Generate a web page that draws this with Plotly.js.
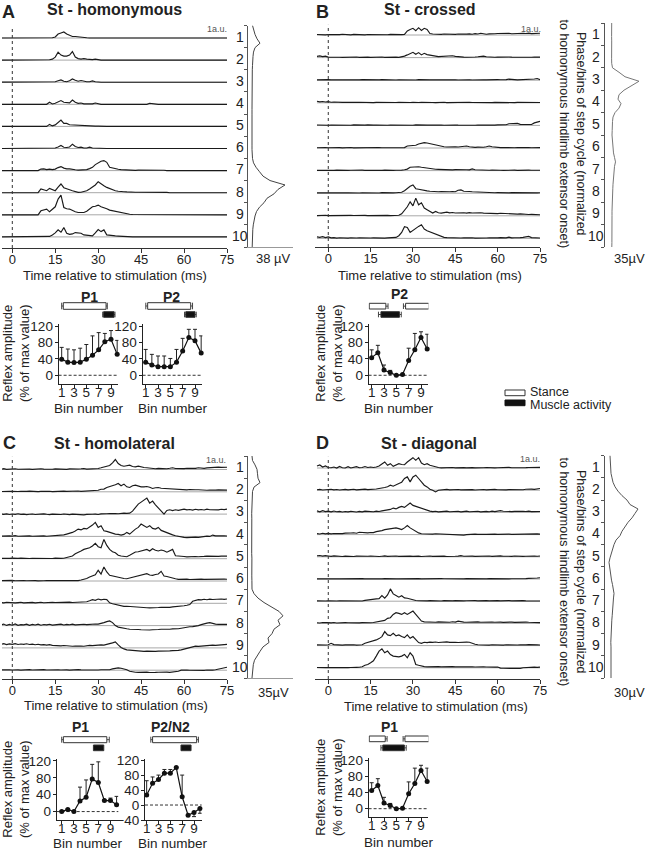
<!DOCTYPE html>
<html><head><meta charset="utf-8">
<script src="https://cdn.plot.ly/plotly-3.0.1.min.js"></script>
<style>html,body{margin:0;padding:0;background:#fff}#chart{width:650px;height:852px}</style>
</head><body><div id="chart"></div>
<script>
// ---------------- DATA ----------------
const timeMs = [-4,-3,-2,-1,0,1,2,3,4,5,6,7,8,9,10,11,12,13,14,15,16,17,18,19,20,21,22,23,24,25,26,27,28,29,30,31,32,33,34,35,36,37,38,39,40,41,42,43,44,45,46,47,48,49,50,51,52,53,54,55,56,57,58,59,60,61,62,63,64,65,66,67,68,69,70,71,72,73,74,75];
const phaseBins = [0,0.2,0.4,0.6,0.8,1,1.2,1.4,1.6,1.8,2,2.2,2.4,2.6,2.8,3,3.2,3.4,3.6,3.8,4,4.2,4.4,4.6,4.8,5,5.2,5.4,5.6,5.8,6,6.2,6.4,6.6,6.8,7,7.2,7.4,7.6,7.8,8,8.2,8.4,8.6,8.8,9,9.2,9.4,9.6,9.8,10];
const binNumbers = [1,2,3,4,5,6,7,8,9,10];
const binBoundaries = [0,1,2,3,4,5,6,7,8,9,10];
const timeTicks = [0,15,30,45,60,75];

// Averaged reflex waveforms (a.u., one row per bin of the step cycle)
const traceA = [
[0,0,0,0,0,0,0,0,0,0, 0,0,0,0,0,0,0,0,0.3,1, 4,5,6,4,2.5,1.5,1.5,1,0.5,0.3, 0.2,0,0,0,0,0,0,0,0,0, 0,0,0,0,0,0,0,0,0,0, 0,0,0,0,0,0,0,0,0,0, 0,0,0,0,0,0,0,0,0,0, 0,0,0,0,0,0,0,0,0,0],
[0,0,0,0,0,0,0,0,0,0, 0,0,0,0,0,0,0.5,0.3,1,3, 8,5,4,4,5,8.5,3,1.5,1,1.5, 1,0.5,0.5,1,0.3,0,0,0,0,0, 0,0,0,0,0,0,0,0,0,0, 0,0,0,0.3,0.3,0.3,0,0,0,0, 0,0,0,0,0,0,0,0,0,0, 0,0,0,0,0,0,0,0,0,0],
[0,0,0,0,0,0,0,0,0,0, 0,0,0,0,0,0,0,0,0.3,0.5, 1.5,2.3,1,0.5,1.5,3.3,2,1,1.7,0.8, 0.5,0.5,1.3,0.5,0,0,0,0,0,0, 0,0,0,0,0,0,0,0,0,0, 0,0,0,0,0,0,0,0,0,0, 0,0,0,0,0,0,0,0,0,0, 0,0,0,0,0,0,0,0,0,0],
[0,0,0,0,0,0,0,0,0,0, 0,0,0,0,0,0,0,2,0.3,1, 2.5,3.7,2,1.5,1.5,4.3,2,1,1.3,0.5, 0.5,0.5,0.5,1.3,0.5,0,0,0,0,0, 0,0,0,0,0,0,0,0,0,0, 0,0,1,0.5,0,0,0,0,0,0, 0,0,0,0,0,0,0,0,0,0, 0,0,0,0,0,0,0,0,0,0],
[0,0,0,0,0,0,0,0,0,0, 0,0,0,0,0,0,0,2,0.5,1.5, 4,6.3,3,3,1.7,1.5,1,1,1.3,0.8, 0.5,0.5,0.3,0.3,0.3,0,0,0,0,0, 0,0,0,0,0.3,0.5,0.5,0.3,0.5,0.5, 0.5,0.3,0.3,0,0,0,0,0,0,0, 0,0,0,0,0,0,0,0,0,0, 0,0,0,0,0,0,0,0,0,0],
[0,0,0,0,0,0,0,0,0,0, 0,0,0,0,0,0,0,0,0,0.5, 1.5,3,1.3,1,1.5,4.3,2,1,1.3,0.5, 0.5,1.3,0.5,0.3,0,0,0,0,0,0, 0,0,0,0,0,0,0,0,0,0, 0,0,0,0,0,0,0,0,0,0, 0,0,0,0,0,0,0,0,0,0, 0,0,0,0,0,0,0,0,0,0],
[0,0,0,0,0,0,0,0,0,0, 0,0,0,0,1.5,1.7,1,1.5,1,1.5, 3,4,2.5,1.7,1.7,1,0.8,0.5,0.5,0.5, 1,2,3.3,6,7.7,9.3,10,8.3,3.3,2.5, 1.7,1.3,1,0.8,0.5,0.3,0.3,0.3,0.5,0.5, 0.8,1,1,1,1,0.8,0.5,0.3,0,0, 0,0,0,0,0,0,0,0,0,0, 0,0,0,0,0,0,0,0,0,0],
[0,0,0,0,0,0,0,0,0,0, 0,0,0,0,3.7,2.5,2,4.3,3,2, 5.5,8.7,5,4.3,3,2,1,0.3,0.5,1, 2,3.7,6,7.7,11,8.7,7,5.3,4,2.7, 2,1.5,1,1,0.8,0.5,0.5,0.5,0.5,0.5, 0.5,0.8,1,1,1,1,0.8,0.5,0.3,0, 0,0,0,0,0,0,0,0,0,0, 0,0,0,0,0,0,0,0,0,0],
[0,0,0,0,0,0,0,0,0,0, 0,0,0,0,4,4.5,5.7,3,5.5,8, 15.7,19.7,7.3,6,5.7,4,3,2.3,2.5,2.3, 3.5,5.7,8,8.5,9.7,8,7.3,6,4.7,4, 3.5,3,2,1.5,0.7,0.5,0.3,0.3,0.3,0, 0,0,0,0,0,0,0,0,0,0, 0,0,0,0,0,0,0,0,0,0, 0,0,0,0,0,0,0,0,0,0],
[0,0,0,0,0,0,0,0,0,0, 0,0,0,0,0,0,0,0.5,2,4, 7,4.7,9.3,3.7,2.5,3,4.3,4,3.7,2, 1.5,1.2,1,4,7.3,5.3,7,2,1.5,1, 1,0.8,0.5,0.3,0,0,0,0,0,0, 0,0,0,0,0,0,0,0,0,0, 0,0,0,0,0,0,0,0,0,0, 0,0,0,0,0,0,0,0,0,0]
];
const traceB = [
[0.5,0.3,0.8,0.2,0.5,0.3,0.6,0.2,0.4,0.7, 0.3,0.5,0.2,0.6,0.4,0.3,0.7,0.2,0.5,0.4, 0.3,0.6,0.4,0.2,0.5,0.3,0.6,0.4,0.3,0.5, 0.4,0.6,4,5.5,6.7,4.3,7.3,4.5,6.7,5.5, 1.5,1,0.8,1.2,0.7,1,0.8,1.3,0.9,0.7, 1,0.8,1.2,0.9,1.1,0.8,1.3,1,1.7,1, 0.8,1.1,0.9,1.2,1.5,1.7,1.2,1.5,1.7,1.3, 1.5,1.8,1.3,1.7,1.5,1.9,1.4,1.7,1.5,1.8],
[1.2,1.7,1,1.5,0.5,0.3,0.5,0.2,0.4,0.3, 0.5,0.3,0.2,0.4,0.6,0.3,0.5,0.2,0.4,0.3, 0.5,0.3,0.4,0.6,0.3,0.5,0.2,0.4,0.5,0.3, 0.6,1.5,2.7,4,5.3,3.3,5,2.7,4.3,3, 2.7,1.7,1.5,1,1.2,0.8,1,1.2,1.8,1.2, 0.8,0.6,0.5,0.4,0.7,0.5,0.6,0.8,1,1.5, 0.8,0.5,0.6,0.4,0.5,0.7,0.5,0.4,0.6,0.5, 0.4,0.6,0.5,0.3,0.5,0.6,0.4,0.5,0.3,0.5],
[0.3,0.5,0.2,0.4,0.6,0.3,0.5,0.2,0.4,0.3, 0.2,0.4,0.3,0.5,0.2,0.3,0.5,0.4,0.2,0.3, 0.4,0.2,0.3,0.5,0.3,0.2,0.4,0.3,0.2,0.4, 0.3,0.5,0.2,0.4,0.3,0.2,0.5,0.3,0.4,0.2, 0.3,0.4,0.2,0.5,0.3,0.4,0.2,0.3,0.5,0.3, 0.2,0.4,0.3,0.5,0.3,0.2,0.4,0.6,0.3,0.4, 0.3,0.5,0.4,0.3,0.6,0.5,0.4,0.6,1,0.5, 0.6,0.4,0.5,0.7,0.5,0.6,0.8,1.2,1.7,0.6],
[1.5,1,1.3,0.8,1.2,0.6,0.8,0.5,0.7,0.4, 0.5,0.3,0.6,0.2,0.4,0.5,0.3,0.2,0.4,0.3, 0.2,0.4,0.3,0.5,0.2,0.3,0.4,0.2,0.3,0.5, 0.3,0.2,0.4,0.3,0.5,0.2,0.3,0.4,0.2,0.3, 0.4,0.3,0.2,0.4,0.3,0.5,0.2,0.3,0.4,0.2, 0.3,0.4,0.2,0.3,0.5,0.3,0.2,0.4,0.3,0.2, 0.4,0.3,0.2,0.4,0.3,0.2,0.4,0.3,0.2,0.3, 0.2,0.4,0.3,0.2,0.3,0.4,0.2,0.3,0.4,0.3],
[0.4,0.2,0.5,0.3,0.2,0.4,0.3,0.5,0.2,0.3, 0.4,0.3,0.2,0.5,0.3,0.2,0.4,0.3,0.5,0.2, 0.3,0.4,0.2,0.3,0.5,0.2,0.4,0.3,0.2,0.4, 0.3,0.2,0.4,0.3,0.2,0.5,0.3,0.4,0.2,0.3, 0.4,0.2,0.3,0.5,0.3,0.2,0.4,0.3,0.2,0.4, 0.3,0.2,0.4,0.3,0.5,0.3,0.2,0.4,0.3,0.2, 0.4,0.3,0.2,0.3,0.5,0.3,0.4,0.6,1.7,2, 1.7,2,1,0.8,1.3,1,0.9,2.5,3.5,4],
[0.3,0.5,0.2,0.4,0.3,0.5,0.2,0.3,0.4,0.2, 0.4,0.3,0.5,0.2,0.3,0.4,0.2,0.5,0.3,0.4, 0.2,0.3,0.5,0.3,0.4,0.2,0.3,0.5,0.4,0.3, 0.5,0.4,2,2,2.5,2.7,4,4.7,5.3,5, 4.3,3.5,2.7,2,1.3,1.2,1,1.3,1,1.2, 1,1.3,1.5,2,1.2,0.8,0.7,0.9,0.6,0.8, 1.2,2,1.2,0.7,0.5,0.4,0.5,0.3,0.4,0.3, 0.3,0.5,0.3,0.4,0.2,0.4,0.3,0.5,0.3,0.4],
[0.3,0.2,0.4,0.3,0.5,0.2,0.3,0.4,0.2,0.3, 0.4,0.2,0.3,0.5,0.3,0.2,0.4,0.3,0.2,0.4, 0.3,0.5,0.2,0.3,0.4,0.2,0.5,0.3,0.4,0.2, 0.5,0.8,1.5,3.3,3.5,4.3,3.8,3.3,2.8,2.3, 1.7,1.5,1.3,1.2,1,1,0.9,1,0.8,0.9, 0.7,0.8,0.6,0.8,0.7,1.7,0.8,0.6,0.5,0.6, 0.5,0.4,0.6,0.3,0.5,0.4,0.3,0.5,0.4,0.3, 0.4,0.3,0.5,0.4,0.3,0.5,0.4,0.3,0.5,0.4],
[0.3,0.5,0.2,0.4,0.3,0.2,0.5,0.3,0.4,0.2, 0.3,0.4,0.2,0.5,0.3,0.2,0.4,0.3,0.5,0.2, 0.4,0.3,0.2,0.5,0.3,0.4,0.2,0.3,0.5,0.6, 1,2.5,5,7,8.3,4.5,4,3.3,2.7,2.3, 2,1.7,1.8,1.5,1.7,1.4,1.6,1.5,1.7,1.5, 3,3.3,2,1.5,1.7,1.4,1.2,1.3,1.1,1, 0.8,0.6,0.7,0.5,0.6,0.4,0.5,0.6,0.4,0.5, 0.4,0.6,0.3,0.5,0.4,0.3,0.5,0.4,0.3,0.5],
[0.2,0.4,0.3,0.5,0.2,0.3,0.4,0.2,0.3,0.5, 0.3,0.2,0.4,0.3,0.5,0.2,0.3,0.4,0.2,0.3, 0.4,0.2,0.3,0.5,0.3,0.4,0.2,0.3,0.4,0.5, 2,5,9,14,10,17.7,11,13,7.7,6, 4,2.7,4.3,3,2.7,3,3.7,3,3.3,2.8, 3,3.3,3,2.7,3.2,2.8,3,2.6,3,2.7, 2.5,2.8,2.3,2.6,2.2,2.5,2.3,2,2.2,1.8, 2,1.7,1.9,1.5,1.6,1.3,1.4,1.1,1.2,1],
[1.5,1,1.8,0.8,1.5,0.5,0.8,0.3,0.6,0.4, 0.5,0.3,0.6,0.2,0.4,0.5,0.3,0.6,0.2,0.4, 0.5,0.3,0.4,0.6,0.3,0.5,0.7,0.4,1,2.7, 6,11.7,11,6,8.3,10,12,13.7,9.3,7.7, 6.5,5,4.3,3,1.5,1,0.8,0.6,0.7,0.5, 0.6,0.4,0.5,0.7,0.4,0.6,0.3,0.5,0.4,0.6, 0.4,0.5,0.3,0.6,0.5,0.8,0.6,0.5,1.3,0.5, 0.6,0.4,0.8,1,1.3,2,0.8,0.5,0.6,0.4]
];
const traceC = [
[0.3,0.8,0.2,0.6,0.4,0.7,0.3,0.5,0.2,0.6, 0.4,0.2,0.5,0.3,0.7,0.4,0.2,0.5,0.3,0.6, 0.4,0.3,0.5,0.2,0.6,0.4,0.3,0.5,0.7,1, 0.4,0.6,0.3,0.5,1,1.7,2.5,3.3,4,6.7, 10,6,4,3.3,3.5,4.3,3,2.7,3.3,2.5, 2,1.7,1.2,1,0.8,1.1,0.9,1,0.8,1.2, 1.7,1,0.8,1.1,0.9,1.2,1,1.3,1.1,1.7, 1.4,1.2,1.6,1.8,2.3,2,2.3,2.1,2.4,2.3],
[0.3,0.6,0.2,0.5,0.4,0.7,0.3,0.5,0.2,0.4, 0.6,0.3,0.5,0.2,0.4,0.6,0.3,0.5,0.2,0.4, 0.3,0.5,0.7,0.4,0.6,0.3,0.5,0.8,0.4,0.5, 1,0.5,1,1,1.5,2.5,2.7,4.3,5,6, 7,8.3,6,7.7,5,4.3,6,6.7,5.5,5, 5,5.3,4.5,3.3,4,4.3,3.5,3.3,3.3,3, 2.7,2.5,2.3,2.6,2.2,2,2.3,1.9,2.1,2, 1.7,1.9,1.6,1.8,1.5,1.7,1.9,1.6,1.8,1.7],
[0.3,-0.3,0.2,-0.4,0.1,-0.2,0.3,-0.3,0,-0.5, -0.2,0.1,-0.4,0,-0.3,0.2,-0.2,-0.5,0,-0.3, -0.1,-0.4,0.1,-0.2,-0.5,0,-0.3,-0.6,-0.2,-0.7, -0.3,-0.5,-0.2,0,-0.4,0.2,0,0.3,0.5,0.2, 0.6,0.4,0.8,1,0.7,1,3,7,10,12, 14.3,16,11,13,9.3,6,3,0,3.7,4.3, 3.5,4.3,3.8,4.5,5,4.2,4.6,4,4.8,4.3, 4.6,4.1,4.9,4.4,4.2,4.7,4.3,4.8,4.5,5],
[0.3,0.6,0.2,0.5,0.3,0.7,0.2,0.4,0.6,0.3, 0.5,0.2,0.4,0.6,0.3,0.5,0.2,0.4,0.3,0.2, 0.5,1,1.5,2.3,3,4,5.5,7.3,6.5,8, 7.5,9,11.3,14,9,10.7,5.7,5,4,3, 2.3,2,1.3,2,4,2.3,5,7.3,9,12.3, 10.7,9,10.7,8,7.3,9,6,4.7,3.5,2.3, 1.5,0.7,0,-0.8,-1,-1.2,-0.9,-1.1,-0.8,-1, -0.5,0,0.3,0,1.3,0.5,0.7,0.3,0.6,0.4],
[0.4,0.2,0.6,0.3,0.5,0.2,0.4,0.6,0.3,0.5, 0.2,0.4,0.3,0.6,0.2,0.5,0.3,0.4,0.2,0.6, 0.3,0.4,0.5,1,1.5,2.7,5,6,7.7,9.3, 10,11,12.7,15.3,12,11,19.3,13.3,9.3,7, 6,3.5,2.7,2.5,2,3.5,5,6.7,7,7.7, 8.5,9.3,7.7,10,8.5,7.7,8.7,8,6.5,8, 9.3,3,2.5,2,2.2,1.8,2.1,1.9,2.2,2, 2.5,2.3,2.6,2.4,2.7,2.5,2.3,2.6,2.4,2.5],
[0.3,0.5,0.2,0.4,0.6,0.3,0.5,0.2,0.4,0.3, 0.5,0.3,0.4,0.2,0.6,0.3,0.5,0.4,0.2,0.5, 0.3,0.6,0.4,0.5,0.3,0.7,0.5,0.4,1,1.7, 2.5,4,5,6.3,10.7,7,14,9,5.7,5, 4,3.5,3,2.5,2.3,3,4,5,5.7,6.5, 7,7.3,6,5.7,6.5,7,9.7,5,4.5,4, 3,2.3,1.7,1.9,1.6,1.8,1.5,1.7,1.9,1.6, 1.8,1.6,1.7,1.9,1.5,1.8,1.7,1.6,1.8,1.7],
[0.8,0.5,1,0.6,0.9,0.4,0.7,1,0.5,0.8, 0.6,0.9,0.5,0.8,1,0.6,0.9,0.7,1,0.8, 1,0.8,1.2,0.9,1.1,0.8,1,1.2,0.9,1.1, 1.5,2.5,3.7,3,4.3,3.5,4,3.7,0.5,-0.5, -1.3,-2,-2.5,-3,-3,-3.3,-3.5,-3.6,-3.5,-3.8, -4.3,-4.5,-4.6,-4.7,-4.5,-4.2,-4,-4.1,-3.9,-4, -3.6,-3.5,-3.3,-3,-2.5,-2,-1.3,2,3,3.7, 3.5,4,3.6,4.1,3.8,4.2,3.9,4.3,4,4.3],
[0.5,1.5,0.2,1.2,0.4,1.6,0.3,1,0.8,1.4, 0.3,1.2,0.6,1.5,0.4,1.1,0.7,1.3,0.5,1, 0.8,1.4,0.6,1.2,0.9,1.5,0.7,1.1,0.9,1.3, 1,1.4,1.2,1.6,1.5,2,3,4,4.7,3, 0,-1.5,-2.3,-2.7,-3.2,-3.7,-3.6,-3.8,-3.9,-4.1, -4.3,-4.2,-4.4,-4.1,-4.3,-3.9,-3.7,-3.8,-3.5,-3.6, -3.3,-3.4,-3.2,-2.6,-2,-1.8,-1.2,-1,-0.7,0, 1,2,2.5,3,2,1.5,1.3,1.1,1.4,1.3],
[3.5,4.2,3.3,4,3.6,4.3,3.4,3.9,3.5,4.1, 3.4,3.8,3.2,3.6,3,3.3,2.8,3.2,2.5,2.2, 2.5,2.1,2.4,2,2.3,1.7,1.9,1.5,1.8,1.7, 2.2,2.5,2.3,2.7,2.5,3,2.8,3.2,4.3,5, 6,3,0.5,-1,-2,-2.2,-2.5,-3,-3.2,-3.3, -3.4,-3.2,-3.5,-3.3,-3.4,-3.2,-3.3,-3.1,-3.3,-3, -2.7,-2.8,-2.5,-2,-1.3,-0.7,0,1,1.7,1.5, 1.8,1.7,2,2.4,2.7,2.5,2.9,3.5,3.7,3.6],
[0.3,0.5,0.1,0.4,0.2,0.5,0.3,0.1,0.4,0.2, 0.5,0.2,0.4,0.1,0.3,0.5,0.2,0.4,0.3,0.1, 0.4,0.2,0.5,0.3,0.1,0.4,0.2,0.5,0.3,0.2, 0.4,0.1,0.3,0.5,0.2,0.4,0.3,0.2,0.5,1.3, 2,2.3,2,1.3,0.5,-1,-1.8,-2,-2.2,-1.9, -2.1,-2,-2.3,-1.9,-2.2,-2,-1.8,-2.1,-1.9,-2.2, -2,-1.8,-1,0.1,-0.2,0.2,0,-0.1,0.2,0, 0.1,-0.1,0.2,0,0.1,0.5,1.3,2,2.5,3]
];
const traceD = [
[2,3,1,2,0.5,0.3,1,0,1.5,0.3, 0,1.3,0,0.5,1.3,0.3,0.5,1.5,0.5,1, 0.5,1,2,4,6,2.7,4.3,1.7,3,4.3, 3.5,3.3,6,8.3,10.3,7.7,10.3,5,3.3,4.3, 2.7,2,1,0.5,0.2,0.4,0.1,0.3,0.5,0.2, 0.4,0.1,0.3,0.2,0.5,0.3,0.1,0.4,0.2,0.3, 0.5,0.2,0.4,0.1,0.3,0.5,0.2,0.4,0.6,0.3, 0.2,0.5,0.3,0.6,0.4,0.5,0.7,0.5,0.8,0.6],
[0.5,0.8,0.2,0.6,0.3,0.9,0.4,0.7,0.2,0.5, 0.8,0.3,0.6,0.9,0.4,0.7,0.5,1,0.6,0.8, 0.5,1.2,1.7,2,2.7,3.5,5,4,5,6.7, 8,11.7,13.3,8.3,13.3,15,11.7,8.3,5,3.3, 1,0,-1.7,0,0.5,0.3,0.8,0.4,0.6,0.2, 0.7,0.4,0.6,0.3,0.8,0.5,0.2,0.6,0.4,0.7, 0.3,0.6,0.4,0.8,0.5,0.3,0.7,0.4,0.6,0.5, 0.8,0.4,0.7,0.5,0.9,0.6,1,0.8,1.2,1.7],
[1.5,0.6,1.8,0.8,1.2,0.5,1.4,0.7,1,0.4, 0.9,0.5,1.1,0.7,0.4,1,0.6,1.2,0.8,1, 0.7,1.3,0.9,1.5,2,2.7,3,4.3,3.5,5, 6,5,7,9.3,7,6,5,3.7,3,1.7, 1.3,0.8,1.1,0.6,1,0.8,1.2,0.7,1,0.9, 1.1,0.6,0.9,1.2,0.7,1,0.8,1.1,0.6,0.9, 1,0.7,1.2,0.8,1.5,1.7,1.2,0.9,1.3,0.8, 1,1.2,0.7,1.1,0.9,1.3,0.8,1,1.2,0.9],
[1,0.6,1.3,0.8,1.2,0.7,1.1,0.9,1.4,1, 1.5,1.2,1.6,1.8,1.4,2.3,1.9,2.2,1.8,2.1, 2,3,3.3,4,5,5.5,5.7,6,6.7,6, 5,6.7,9,6.7,5,3.3,1.7,0.8,0.6,0.9, 0.7,0.5,0.8,0.6,0.4,0.2,0,0.1,-0.2,0, -0.3,-1,-0.5,0,0.3,0.1,0.4,0.2,0.5,0.3, 0.2,0.4,0.3,0.5,0.2,0.4,0.3,0.1,0.4,0.2, 0.3,0.5,0.2,0.4,0.3,0.5,0.6,0.4,0.7,0.5],
[1,1.3,0.7,1.2,0.8,0.4,0.9,0.5,0.7,0.3, 0.6,0.4,0.8,0.3,0.7,0.5,0.9,0.4,0.6,0.8, 0.5,0.7,0.3,0.6,0.9,0.4,0.7,0.5,0.8,0.4, 0.6,0.9,0.5,0.7,0.4,0.8,0.6,0.3,0.7,0.5, 0.8,0.4,0.6,0.9,0.5,0.7,0.3,0.6,0.8,0.5, 0.7,1.2,0.6,0.8,0.5,0.7,0.4,0.6,0.9,0.5, 0.6,0.8,0.4,0.7,0.5,0.9,0.6,0.4,0.7,0.5, 0.8,0.5,0.7,0.4,0.6,0.8,0.5,0.7,0.6,0.8],
[0.2,0.3,0.1,0.3,0.2,0.1,0.3,0.2,0.1,0.2, 0.3,0.1,0.2,0.3,0.1,0.2,0.3,0.2,0.1,0.3, 0.2,0.1,0.3,0.2,0.3,0.1,0.2,0.3,0.1,0.2, 0.3,0.2,0.1,0.3,0.2,0.1,0.3,0.2,0.3,0.1, 0.2,0.3,0.1,0.2,0.3,0.2,0.1,0.3,0.2,0.1, 0.3,0.2,0.1,0.3,0.2,0.3,0.1,0.2,0.3,0.2, 0.1,0.3,0.2,0.1,0.3,0.2,0.3,0.1,0.2,0.3, 0.2,0.4,0.3,0.5,0.4,0.6,0.5,0.8,1,1.3],
[0.3,0.1,0.4,0.2,0.3,0.1,0.4,0.2,0.3,0.2, 0.4,0.1,0.3,0.2,0.4,0.3,0.2,0.8,1.3,1.5, 1.8,2.3,2.5,5.7,3,6.3,12.3,7.3,5.7,4, 5.5,3.3,3,2.3,1,0.7,0.5,0.3,0.6,0.4, 0.5,0.3,0.6,0.4,0.2,0.5,0.3,0.6,0.4,0.5, 0.3,0.6,0.4,0.5,0.7,0.4,0.6,0.3,0.5,0.4, 0.6,0.3,0.5,0.4,0.6,0.3,0.5,0.4,0.6,0.3, 0.5,0.4,0.2,0.5,0.3,0.4,0.2,0.5,0.3,0.2],
[0.7,0.4,0.9,0.5,0.8,0.6,0.9,0.4,0.7,0.5, 0.8,0.6,0.4,0.9,0.7,0.5,0.8,0.6,0.9,0.7, 0.9,1.5,2.3,2.5,3,5,5.7,9,10.7,10, 9,10.7,9,10.7,12.3,9,6,2.3,1.5,1.3, 1.1,1.4,1.2,1.5,1.3,1.1,1.4,1.2,1.6,1.3, 2.3,1.6,1.3,1.2,1.4,1.1,1.3,1.5,1.2,1.4, 1.3,1.1,1.4,1.2,1.5,1.3,1.1,1.4,1.2,1.3, 1.1,1.3,1.2,1,1.3,1.1,1.2,0.9,1.1,0.8],
[0.7,0.5,0.9,0.6,0.8,2.3,1,0.6,0.8,0.5, 0.7,0.9,0.6,0.8,0.5,0.7,0.9,2.3,3,4, 4.5,5.7,7,9,14,10.7,10,12.3,9.7,10.7, 9,8,10.7,7.3,9,5.7,3,2.3,3.3,3, 3.5,3.2,3.6,3.1,3.4,3.3,3.7,3.2,3.5,3.3, 3.1,3.4,3.2,3.5,3.3,2,1.3,0.8,0.6,0.9, 0.7,0.5,0.8,0.6,0.9,0.7,0.5,0.8,0.6,0.7, 0.9,0.6,0.8,0.5,0.7,0.9,0.6,0.8,0.7,0.6],
[0.3,0.1,0.4,0.2,0.3,0.1,0.4,0.2,0.3,0.1, 0.4,0.2,0.3,0.1,0.4,0.5,1,2.5,3.3,5, 7,11.7,16.7,19,15,16.7,13.3,11.7,11,11, 11.7,13.3,10,15,11.7,3.3,2.5,1.7,1.2,0.9, 1.1,0.8,1,1.2,0.9,1.1,0.8,1,1.2,0.9, 1,0.8,1.1,0.9,1.2,1,0.8,1.1,0.9,1, 0.8,1,0.9,0.7,0.8,-0.3,-0.5,-0.6,-0.4,-0.6, -0.5,-0.4,-0.6,0,0.3,0.5,0.4,0.6,0.5,0.7]
];

// Rectified EMG of the homonymous hindlimb extensor across the step cycle (phase 0-10)
const emgA = [4.5,5.5,7,9,12,7,5.5,5,4.5,4.5, 4.3,4.2,4,4.2,4,4,4.1,4,3.9,4, 4,4.1,4,3.9,4,4,4.1,4,4,4.1, 4.5,5.5,8,11.5,15,22,37,30,26,19, 16,11.5,8.5,7,6,5.3,4.8,4.6,4.4,4.3,4.2];
const emgB = [6.7,6.5,6.8,6.6,6.7,6.5,6.6,6.8,6.6,6.7, 7.5,14,20,34,27,19,14,13,16,14, 10,8,7.5,7,7.2,7,7.2,7.5,7.8,8.5, 9.5,10.5,9.5,9,8.5,8.2,8,7.8,7.5,7.5, 7.2,7.2,7,7,7.1,7,6.9,7,6.8,6.9,6.8];
const emgC = [4,4.5,7,9,9.5,10,12,6,4.5,4.2, 4,3.8,3.9,3.7,3.8,3.7,3.9,3.8,3.7,3.8, 3.7,3.8,3.7,3.9,3.7,3.8,3.7,3.8,3.9,3.8, 4,6,10,16,24,31,35,30,32,26, 24,20,21,15,12,9,6.5,5.3,4.7,4.2,4];
const emgD = [5,5.2,5,5.3,6,7,8,10,13,17, 22,25,33,30,27,23,20,17,15,11, 9,7.5,6.5,5,4,4.5,5,5.5,6.5,7.5, 8,9,8.5,8,7.5,7,7.2,6.8,6.5,6.3, 6,6.2,5.8,6,6,5.8,6,6,6.2,6,6];

// 1 a.u. calibration bar heights for each bin
const scaleBarA = [6,18,19,16,18,19,3,3,3,3];
const scaleBarB = [10,17,17,17,17,15,10,7,7,7];
const scaleBarC = [15,12,15,4,7,5,17,15,13,17];
const scaleBarD = [7,7,7,7,20,13,3,3,3,5];

// Reflex amplitude (% of max) per bin, with SD
const ampA_P1 = [39,32,31,32,39,49,62,82,88,51];
const errA_P1 = [29,32,31,34,36,47,42,20,21,34];
const ampA_P2 = [32,25,21,21,21,32,59,92,84,54];
const errA_P2 = [31,26,26,26,20,31,31,20,28,42];
const ampB_P2 = [43,55,13,7,0,2,36,62,92,64];
const errB_P2 = [19,18,12,5,0,0,30,40,14,36];
const ampC_P1 = [0,5,0,25,34,77,69,26,26,16];
const errC_P1 = [2,2,2,33,41,35,49,2,6,20];
const ampC_P2 = [27,58,68,85,85,100,22,-27,-20,-9];
const errC_P2up = [38,17,12,10,10,2,58,0,0,0];
const errC_P2down = [0,0,0,0,0,0,0,3,11,13];
const ampD_P1 = [45,57,14,8,0,1,37,62,94,67];
const errD_P1 = [19,17,14,5,0,0,29,38,13,33];
const zeros10 = [0,0,0,0,0,0,0,0,0,0];

// Stance / muscle activity periods in bin units: [start, end, sdStart, sdEnd]
const stanceA_P1 = [[1.26,8.2,0.26,0.2]];
const muscleA_P1 = [[7.8,9.5,0.15,0.15]];
const stanceA_P2 = [[1.32,8.3,0.3,0.3]];
const muscleA_P2 = [[7.5,9.0,0.2,0.2]];
const stanceB_P2 = [[0.6,3.3,0,0.35],[6.5,10.3,0.35,0]];
const muscleB_P2 = [[2.5,5.5,0.4,0.3]];
const stanceC_P1 = [[1.27,8.4,0.27,0.4]];
const muscleC_P1 = [[6.2,7.9,0,0]];
const stanceC_P2 = [[2.0,9.45,0.3,0.3]];
const muscleC_P2 = [[6.8,8.5,0,0]];
const stanceD_P1 = [[0.6,3.2,0,0.3],[6.4,10.3,0.3,0]];
const muscleD_P1 = [[2.8,6.3,0.3,0.3]];

// ---------------- LAYOUT ----------------
const W = 650, H = 852;
const fx = p => p / W, fy = p => 1 - p / H;
const FONT = 'Liberation Sans, Arial, Helvetica, sans-serif';
const INK = '#222';
const data = [], shapes = [], annotations = [];
const layout = {width:W, height:H, margin:{l:0,r:0,t:0,b:0,pad:0}, paper_bgcolor:'#fff', plot_bgcolor:'rgba(0,0,0,0)',
  showlegend:false, hovermode:false, font:{family:FONT, size:13, color:INK}};
const axName = (c,n) => c + 'axis' + (n === 1 ? '' : n);
const axRef = (c,n) => c + (n === 1 ? '' : n);
function ann(x, y, text, o) {
  annotations.push(Object.assign({xref:'paper', yref:'paper', x:fx(x), y:fy(y), text:text, showarrow:false,
    xanchor:'center', yanchor:'middle', font:{family:FONT, size:13, color:INK}}, o || {}));
}

const panelGeo = [
 {letter:'A', title:'St - homonymous', uv:'38 µV', traces:traceA, emg:emgA, sbar:scaleBarA, emgColor:'#444',
  xd:[2,227], xr:[-3.6,75], yd:[20,248], base:38, sp:22.1, ed:[248,293], eyd:[25.5,247], emgLine:true,
  labX:239.5, let:[8,12], tit:[114,10], xt:[115,275], uvPos:[273,258], au:[217,29]},
 {letter:'B', title:'St - crossed', uv:'35µV', traces:traceB, emg:emgB, sbar:scaleBarB, emgColor:'#777',
  xd:[315,540], xr:[-4.7,75], yd:[18,247], base:35, sp:22.6, ed:[605,650], eyd:[23,247], emgLine:false,
  labX:596, let:[322,12], tit:[429.5,10], xt:[430,275], uvPos:[629,258], au:[531,29], rot:[572.5,134]},
 {letter:'C', title:'St - homolateral', uv:'35µV', traces:traceC, emg:emgC, sbar:scaleBarC, emgColor:'#444',
  xd:[2,227], xr:[-3.6,75], yd:[450,679], base:469.5, sp:22.3, ed:[248,293], eyd:[456,678], emgLine:true,
  labX:239.5, let:[9,443], tit:[114,443], xt:[116,705], uvPos:[273,692], au:[216,460]},
 {letter:'D', title:'St - diagonal', uv:'30µV', traces:traceD, emg:emgD, sbar:scaleBarD, emgColor:'#555',
  xd:[315,540], xr:[-4.7,75], yd:[450,679], base:468, sp:22.2, ed:[605,650], eyd:[455.6,678], emgLine:false,
  labX:596, let:[322,443], tit:[429,443], xt:[436,706], uvPos:[629,692], au:[530,459], rot:[572.5,572]}
];

panelGeo.forEach((g, i) => {
  const n = i + 1, e = i + 5;
  const xr = axRef('x', n), yr = axRef('y', n);
  layout[axName('x', n)] = {domain:[fx(g.xd[0]), fx(g.xd[1])], range:g.xr, anchor:yr, showline:true, linecolor:'#333',
    linewidth:1, ticks:'outside', ticklen:4, tickcolor:'#333', tickvals:timeTicks, tickfont:{size:13, color:INK},
    ticklabelstandoff:-5, showgrid:false, zeroline:false};
  layout[axName('y', n)] = {domain:[fy(g.yd[1]), fy(g.yd[0])], range:[-(g.yd[1] - g.base), g.base - g.yd[0]],
    anchor:xr, visible:false};
  g.traces.forEach((vals, k) => {
    const off = -k * g.sp;
    data.push({type:'scatter', mode:'lines', x:[timeMs[0], timeMs[timeMs.length - 1]], y:[off, off],
      xaxis:xr, yaxis:yr, line:{color:'#a8a8a8', width:1}});
    data.push({type:'scatter', mode:'lines', x:timeMs, y:vals.map(v => v + off), xaxis:xr, yaxis:yr,
      line:{color:'#1a1a1a', width:1.15}});
    const h = g.sbar[k];
    shapes.push({type:'line', xref:xr, yref:yr, x0:75.6, x1:75.6, y0:off + 5 - h / 2, y1:off + 5 + h / 2,
      line:{color:'#444', width:1.5}});
  });
  shapes.push({type:'line', xref:xr, yref:yr + ' domain', x0:0, x1:0, y0:0, y1:0.97,
    line:{color:'#333', width:1, dash:'dot'}});

  const ex = axRef('x', e), ey = axRef('y', e);
  layout[axName('x', e)] = {domain:[fx(g.ed[0]), fx(g.ed[1])], range:[0, 45], anchor:ey, showline:g.emgLine,
    linecolor:'#999', linewidth:1, ticks:'', showticklabels:false, showgrid:false, zeroline:false};
  layout[axName('y', e)] = {domain:[fy(g.eyd[1]), fy(g.eyd[0])], range:[10, 0], anchor:ex, showline:true,
    linecolor:'#555', linewidth:1, ticks:'outside', ticklen:3, tickcolor:'#555', tickvals:binBoundaries,
    showticklabels:false, showgrid:false, zeroline:false};
  data.push({type:'scatter', mode:'lines', x:g.emg, y:phaseBins, xaxis:ex, yaxis:ey,
    line:{color:g.emgColor, width:1}});
  binNumbers.forEach((b, k) => annotations.push({xref:'paper', yref:ey, x:fx(g.labX), y:k + 0.5, text:String(b),
    showarrow:false, xanchor:'center', yanchor:'middle', font:{family:FONT, size:14, color:INK}}));

  ann(g.let[0], g.let[1], '<b>' + g.letter + '</b>', {font:{family:FONT, size:18, color:INK}});
  ann(g.tit[0], g.tit[1], '<b>' + g.title + '</b>', {font:{family:FONT, size:16, color:INK}});
  ann(g.xt[0], g.xt[1], 'Time relative to stimulation (ms)', {font:{family:FONT, size:13, color:INK}});
  ann(g.uvPos[0], g.uvPos[1], g.uv, {font:{family:FONT, size:13, color:INK}});
  ann(g.au[0], g.au[1], '1a.u.', {font:{family:FONT, size:9, color:'#555'}});
  if (g.rot) ann(g.rot[0], g.rot[1], 'Phase/bins of step cycle (normalized<br>to homonymous hindlimb extensor onset)',
    {textangle:90, font:{family:FONT, size:12.5, color:INK}});
});

const subGeo = [
 {amp:ampA_P1, up:errA_P1, down:zeros10, title:'P1', xd:[58.6,118.4], xr:[0.5,10.2], yd:[324.4,383.9], yr:[-21,124],
  yt:[0,40,80,120], stance:stanceA_P1, muscle:muscleA_P1, sY:[302.7,309.3], mY:[311.7,317.3], tX:89, tY:297, bnY:408, ytitle:[16,353]},
 {amp:ampA_P2, up:errA_P2, down:zeros10, title:'P2', xd:[142.6,202.4], xr:[0.5,10.2], yd:[324.4,383.9], yr:[-21,124],
  yt:[0,40,80,120], stance:stanceA_P2, muscle:muscleA_P2, sY:[302.7,309.3], mY:[311.7,317.3], tX:171, tY:297, bnY:408},
 {amp:ampB_P2, up:errB_P2, down:zeros10, title:'P2', xd:[368.6,428.4], xr:[0.5,10.2], yd:[324.4,383.9], yr:[-21,124],
  yt:[0,40,80,120], stance:stanceB_P2, muscle:muscleB_P2, sY:[303.3,309], mY:[311.7,317.3], tX:399, tY:294, bnY:408, ytitle:[329,353]},
 {amp:ampC_P1, up:errC_P1, down:zeros10, title:'P1', xd:[56.7,118.3], xr:[0.18,10.28], yd:[759.3,820], yr:[-20,124],
  yt:[0,40,80,120], stance:stanceC_P1, muscle:muscleC_P1, sY:[736.7,742.7], mY:[745,750.7], tX:80, tY:727, bnY:843, ytitle:[16,789]},
 {amp:ampC_P2, up:errC_P2up, down:errC_P2down, title:'P2/N2', xd:[145,201.7], xr:[0.72,10.3], yd:[759,820], yr:[-40,123],
  yt:[-40,0,40,80,120], stance:stanceC_P2, muscle:muscleC_P2, sY:[736.7,742.7], mY:[745,750.7], tX:170, tY:727, bnY:843},
 {amp:ampD_P1, up:errD_P1, down:zeros10, title:'P1', xd:[368.6,428.4], xr:[0.5,10.2], yd:[758.4,817.2], yr:[-21,124],
  yt:[0,40,80,120], stance:stanceD_P1, muscle:muscleD_P1, sY:[736,741.7], mY:[745,750.7], tX:389, tY:727, bnY:842, ytitle:[329,787]}
];

function phaseBar(xr, b, yy, filled) {
  const x0 = b[0], x1 = b[1], sdL = b[2], sdR = b[3];
  const yt = fy(yy[0]), yb = fy(yy[1]), ym = (yt + yb) / 2;
  const ln = {color:'#444', width:1};
  if (sdL > 0) {
    shapes.push({type:'line', xref:xr, yref:'paper', x0:x0 - sdL, x1:x0, y0:ym, y1:ym, line:ln});
    shapes.push({type:'line', xref:xr, yref:'paper', x0:x0 - sdL, x1:x0 - sdL, y0:yb, y1:yt, line:ln});
  }
  if (sdR > 0) {
    shapes.push({type:'line', xref:xr, yref:'paper', x0:x1, x1:x1 + sdR, y0:ym, y1:ym, line:ln});
    shapes.push({type:'line', xref:xr, yref:'paper', x0:x1 + sdR, x1:x1 + sdR, y0:yb, y1:yt, line:ln});
  }
  shapes.push({type:'rect', xref:xr, yref:'paper', x0:x0, x1:x1, y0:yb, y1:yt,
    fillcolor:filled ? '#111' : '#fff', line:{color:'#333', width:1}});
}

subGeo.forEach((s, j) => {
  const n = 9 + j, xr = axRef('x', n), yr = axRef('y', n);
  layout[axName('x', n)] = {domain:[fx(s.xd[0]), fx(s.xd[1])], range:s.xr, anchor:yr, showline:true, linecolor:'#222',
    linewidth:1, ticks:'outside', ticklen:3, tickcolor:'#222', tickvals:[1,3,5,7,9], tickfont:{size:13.5, color:INK},
    ticklabelstandoff:-7, showgrid:false, zeroline:false};
  layout[axName('y', n)] = {domain:[fy(s.yd[1]), fy(s.yd[0])], range:s.yr, anchor:xr, showline:true, linecolor:'#222',
    linewidth:1, ticks:'outside', ticklen:3, tickcolor:'#222', tickvals:s.yt, tickfont:{size:13.5, color:INK},
    ticklabelstandoff:-1, showgrid:false, zeroline:false};
  shapes.push({type:'line', xref:xr + ' domain', yref:yr, x0:0, x1:1, y0:0, y1:0, layer:'below',
    line:{color:'#333', width:1, dash:'3px,2px'}});
  data.push({type:'scatter', mode:'lines+markers', x:binNumbers, y:s.amp, xaxis:xr, yaxis:yr,
    line:{color:'#111', width:1.2}, marker:{size:5, color:'#111'}, cliponaxis:false,
    error_y:{type:'data', symmetric:false, array:s.up, arrayminus:s.down, width:2, thickness:1, color:'#222'}});
  s.stance.forEach(b => phaseBar(xr, b, s.sY, false));
  s.muscle.forEach(b => phaseBar(xr, b, s.mY, true));
  ann(s.tX, s.tY, '<b>' + s.title + '</b>', {font:{family:FONT, size:14, color:INK}});
  ann((s.xd[0] + s.xd[1]) / 2, s.bnY, 'Bin number', {font:{family:FONT, size:13.5, color:INK}});
  if (s.ytitle) ann(s.ytitle[0], s.ytitle[1], 'Reflex amplitude<br>(% of max value)',
    {textangle:-90, font:{family:FONT, size:13, color:INK}});
});

// legend
shapes.push({type:'rect', xref:'paper', yref:'paper', x0:fx(505), x1:fx(525), y0:fy(395.7), y1:fy(390),
  fillcolor:'#fff', line:{color:'#333', width:1}});
shapes.push({type:'rect', xref:'paper', yref:'paper', x0:fx(505), x1:fx(525), y0:fy(405.7), y1:fy(400),
  fillcolor:'#111', line:{color:'#111', width:1}});
ann(528, 391.5, 'Stance', {xanchor:'left', font:{family:FONT, size:12.5, color:INK}});
ann(528, 405, 'Muscle activity', {xanchor:'left', font:{family:FONT, size:12.5, color:INK}});

layout.shapes = shapes;
layout.annotations = annotations;
Plotly.newPlot('chart', data, layout, {displayModeBar:false, staticPlot:true});
</script></body></html>
